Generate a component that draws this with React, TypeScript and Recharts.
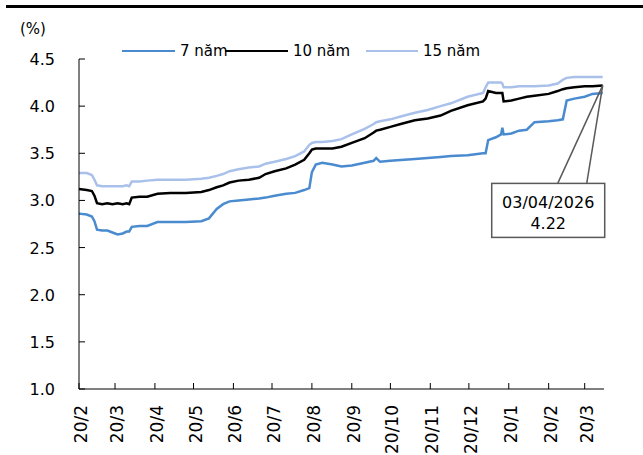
import { LineChart, Line, XAxis, YAxis, ReferenceDot } from 'recharts'

// Trading dates and yields (%)
const dates = [
  '2025-02-20', '2025-02-26', '2025-03-02', '2025-03-04', '2025-03-06', '2025-03-10',
  '2025-03-14', '2025-03-18', '2025-03-22', '2025-03-26', '2025-03-29', '2025-03-31',
  '2025-04-02', '2025-04-08', '2025-04-14', '2025-04-22', '2025-05-02', '2025-05-14',
  '2025-05-26', '2025-06-01', '2025-06-07', '2025-06-12', '2025-06-17', '2025-06-24',
  '2025-07-02', '2025-07-10', '2025-07-15', '2025-07-22', '2025-07-31', '2025-08-07',
  '2025-08-14', '2025-08-18', '2025-08-20', '2025-08-23', '2025-08-28', '2025-09-05',
  '2025-09-12', '2025-09-20', '2025-09-30', '2025-10-07', '2025-10-09', '2025-10-12',
  '2025-10-20', '2025-10-28', '2025-11-08', '2025-11-18', '2025-11-28', '2025-12-06',
  '2025-12-19', '2025-12-31', '2026-01-02', '2026-01-04', '2026-01-10', '2026-01-14',
  '2026-01-15', '2026-01-16', '2026-01-22', '2026-01-28', '2026-02-03', '2026-02-09',
  '2026-02-20', '2026-02-27', '2026-03-03', '2026-03-06', '2026-03-12', '2026-03-20',
  '2026-03-26', '2026-04-03',
]

const y7 = [
  2.86, 2.85, 2.83, 2.78, 2.69, 2.68, 2.68, 2.66, 2.64, 2.65, 2.67, 2.67,
  2.72, 2.73, 2.73, 2.77, 2.77, 2.77, 2.78, 2.81, 2.91, 2.96, 2.99, 3.0,
  3.01, 3.02, 3.03, 3.05, 3.07, 3.08, 3.11, 3.13, 3.3, 3.38, 3.4, 3.38,
  3.36, 3.37, 3.4, 3.42, 3.45, 3.41, 3.42, 3.43, 3.44, 3.45, 3.46, 3.47,
  3.48, 3.5, 3.5, 3.64, 3.67, 3.7, 3.77, 3.7, 3.71, 3.74, 3.75, 3.83,
  3.84, 3.85, 3.86, 4.06, 4.08, 4.1, 4.13, 4.14,
]

const y10 = [
  3.12, 3.11, 3.1, 3.05, 2.97, 2.96, 2.97, 2.96, 2.97, 2.96, 2.97, 2.96,
  3.03, 3.04, 3.04, 3.07, 3.08, 3.08, 3.09, 3.11, 3.14, 3.16, 3.19, 3.21,
  3.22, 3.24, 3.28, 3.31, 3.34, 3.38, 3.43, 3.5, 3.54, 3.55, 3.55, 3.55,
  3.57, 3.61, 3.66, 3.72, 3.74, 3.75, 3.78, 3.81, 3.85, 3.87, 3.9, 3.95,
  4.01, 4.05, 4.08, 4.16, 4.14, 4.14, 4.14, 4.05, 4.06, 4.08, 4.1, 4.11,
  4.13, 4.16, 4.18, 4.19, 4.2, 4.21, 4.21, 4.22,
]

const y15 = [
  3.29, 3.29, 3.27, 3.22, 3.16, 3.15, 3.15, 3.15, 3.15, 3.15, 3.16, 3.15,
  3.2, 3.2, 3.21, 3.22, 3.22, 3.22, 3.23, 3.24, 3.26, 3.28, 3.31, 3.33,
  3.35, 3.36, 3.39, 3.41, 3.44, 3.47, 3.52, 3.59, 3.61, 3.62, 3.62, 3.63,
  3.65, 3.7, 3.76, 3.81, 3.83, 3.84, 3.86, 3.89, 3.93, 3.96, 4.0, 4.03,
  4.1, 4.14, 4.2, 4.25, 4.25, 4.25, 4.24, 4.2, 4.2, 4.21, 4.21, 4.21,
  4.22, 4.24, 4.28, 4.3, 4.31, 4.31, 4.31, 4.31,
]

const tickDates = [
  '2025-02-20', '2025-03-20', '2025-04-20', '2025-05-20', '2025-06-20', '2025-07-20', '2025-08-20',
  '2025-09-20', '2025-10-20', '2025-11-20', '2025-12-20', '2026-01-20', '2026-02-20', '2026-03-20',
]
const tickLabels = ['20/2', '20/3', '20/4', '20/5', '20/6', '20/7', '20/8', '20/9', '20/10', '20/11', '20/12', '20/1', '20/2', '20/3']
const yTicks = [1.0, 1.5, 2.0, 2.5, 3.0, 3.5, 4.0, 4.5]

const seriesNames = ['7 năm', '10 năm', '15 năm']
const seriesColors = ['#4a8bd0', '#000000', '#a9c1ea']

const START = Date.parse('2025-02-20')
const toDay = (s: string) => Math.round((Date.parse(s) - START) / 86400000)

const chartData = dates.map((d, i) => ({ day: toDay(d), y7: y7[i], y10: y10[i], y15: y15[i] }))
const xTicks = tickDates.map(toDay)
const last = chartData[chartData.length - 1]

const FONT = '"DejaVu Sans", Verdana, sans-serif'

const YTick = ({ x, y, payload }: any) => (
  <g>
    <line x1={x} x2={x + 6} y1={y} y2={y} stroke="#000" strokeWidth={1} />
    <text x={x - 24} y={y + 6} textAnchor="end" fontSize={16} fill="#000" fontFamily={FONT}>
      {Number(payload.value).toFixed(1)}
    </text>
  </g>
)

const XTick = ({ x, y, payload, index }: any) => {
  const px = x + 8
  const py = y + 16
  return (
    <g>
      <line x1={x} x2={x} y1={y} y2={y - 6} stroke="#000" strokeWidth={1} />
      <text x={px} y={py} transform={`rotate(-90 ${px} ${py})`} textAnchor="end" fontSize={17} fill="#000" fontFamily={FONT}>
        {tickLabels[index] ?? payload.value}
      </text>
    </g>
  )
}

// callout box pointing at the last 10-year value
const Callout = ({ cx, cy }: any) => (
  <g>
    <line x1={cx} y1={cy} x2={cx - 45} y2={cy + 98} stroke="#595959" strokeWidth={1.5} />
    <line x1={cx} y1={cy} x2={cx - 16} y2={cy + 98} stroke="#595959" strokeWidth={1.5} />
    <rect x={cx - 111} y={cy + 98} width={113} height={54} fill="#fff" stroke="#595959" strokeWidth={1.5} />
    <text x={cx - 54.5} y={cy + 123} textAnchor="middle" fontSize={16} fill="#000" fontFamily={FONT}>
      03/04/2026
    </text>
    <text x={cx - 54.5} y={cy + 144} textAnchor="middle" fontSize={16} fill="#000" fontFamily={FONT}>
      {last.y10.toFixed(2)}
    </text>
  </g>
)

const legendLeft = [122, 225, 366]
const legendLine = [53, 63, 52]

export default function App() {
  return (
    <div style={{ position: 'absolute', left: 0, top: 0, width: 643, height: 455, background: '#fff', fontFamily: FONT }}>
      <div style={{ position: 'absolute', left: 6, top: 5, width: 637, height: 3, background: '#000' }} />
      <div style={{ position: 'absolute', left: 20, top: 20, fontSize: 15, color: '#000' }}>(%)</div>
      {seriesNames.map((name, i) => (
        <div key={name} style={{ position: 'absolute', left: legendLeft[i], top: 41, height: 20, display: 'flex', alignItems: 'center', fontSize: 15, color: '#000' }}>
          <span style={{ display: 'inline-block', width: legendLine[i], height: 2.5, background: seriesColors[i], marginRight: 5 }} />
          <span>{name}</span>
        </div>
      ))}
      <LineChart width={643} height={455} data={chartData} margin={{ top: 59, right: 39, left: 0, bottom: 0 }}>
        <XAxis
          dataKey="day"
          type="number"
          domain={[0, 408]}
          ticks={xTicks}
          interval={0}
          height={66}
          tickSize={0}
          tickMargin={0}
          tickLine={false}
          axisLine={{ stroke: '#000', strokeWidth: 1 }}
          tick={<XTick />}
        />
        <YAxis
          type="number"
          domain={[1, 4.5]}
          ticks={yTicks}
          width={79}
          tickSize={0}
          tickMargin={0}
          tickLine={false}
          axisLine={{ stroke: '#000', strokeWidth: 1 }}
          tick={<YTick />}
        />
        <Line type="linear" dataKey="y15" stroke={seriesColors[2]} strokeWidth={2.5} dot={false} isAnimationActive={false} />
        <Line type="linear" dataKey="y7" stroke={seriesColors[0]} strokeWidth={2.5} dot={false} isAnimationActive={false} />
        <Line type="linear" dataKey="y10" stroke={seriesColors[1]} strokeWidth={2.5} dot={false} isAnimationActive={false} />
        <ReferenceDot x={last.day} y={last.y10} r={0} ifOverflow="visible" shape={<Callout />} />
      </LineChart>
    </div>
  )
}
